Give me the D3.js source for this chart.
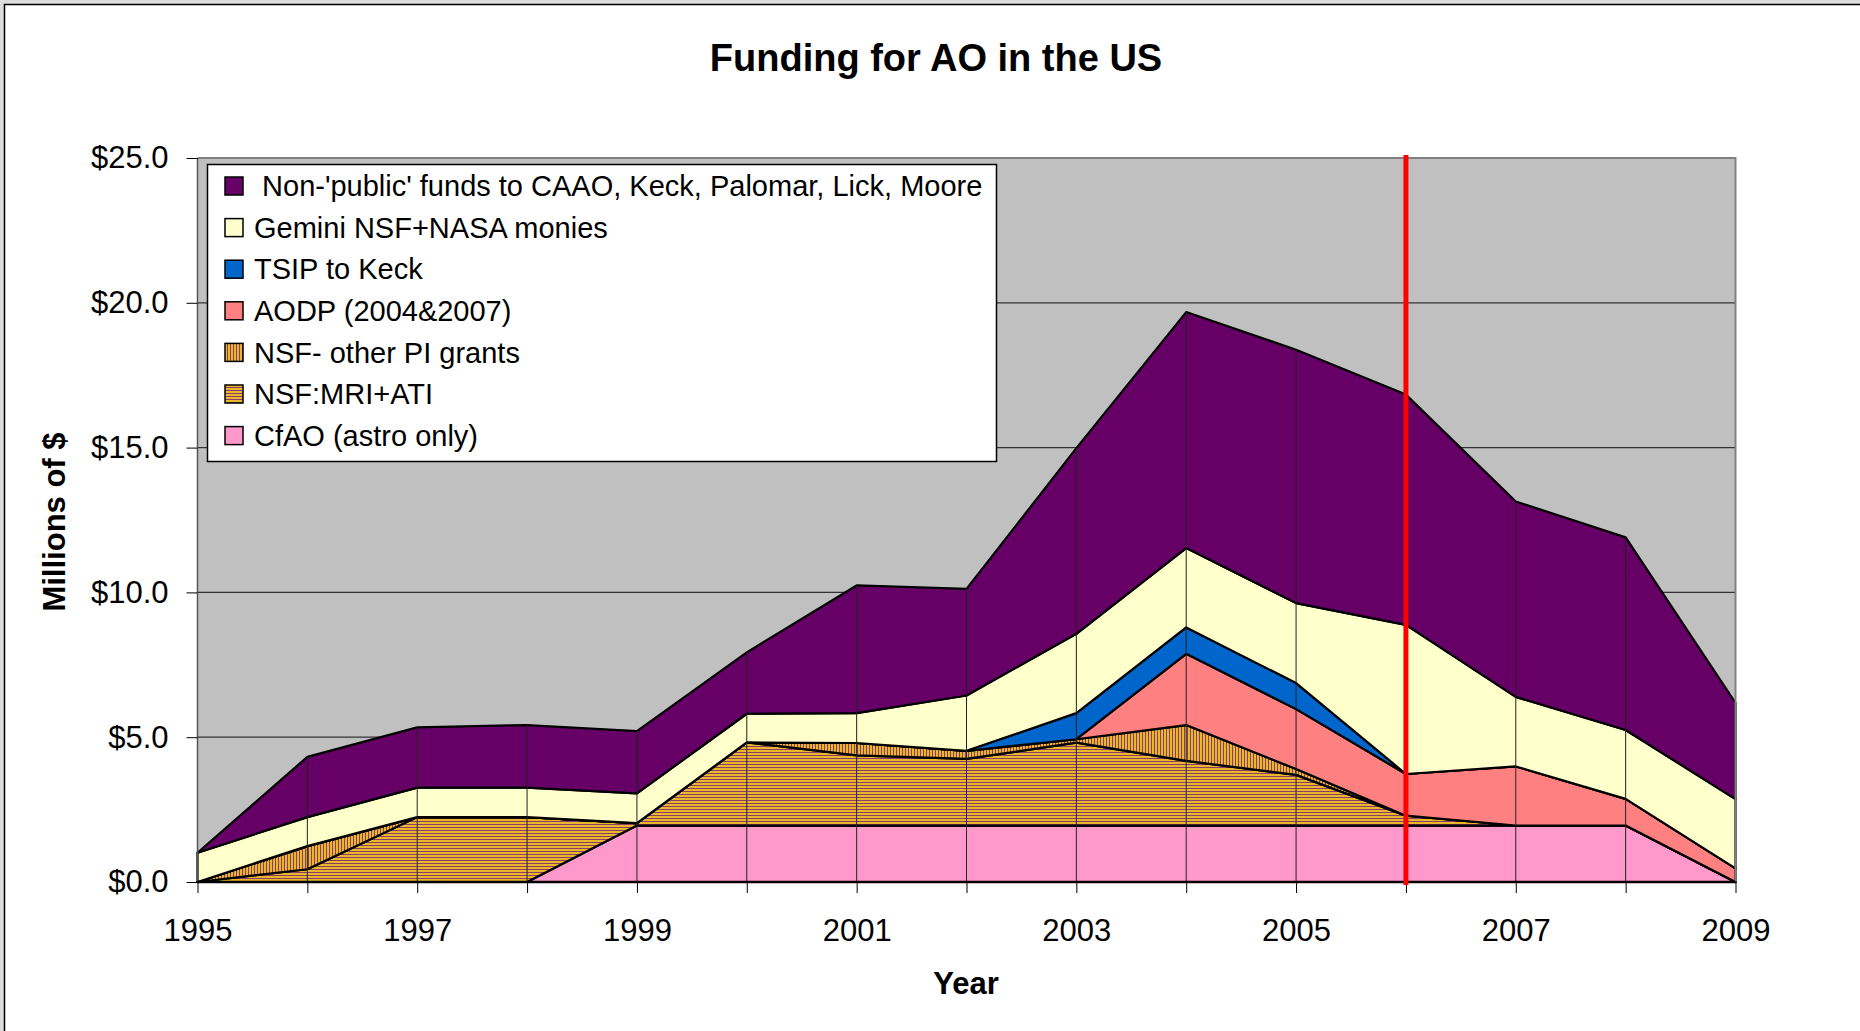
<!DOCTYPE html>
<html>
<head>
<meta charset="utf-8">
<script src="https://cdn.jsdelivr.net/npm/d3@7"></script>
<style>
  html, body { margin: 0; padding: 0; background: #dcdcdc; overflow: hidden; }
  svg { display: block; font-family: "Liberation Sans", Arial, sans-serif; }
</style>
</head>
<body>
<svg id="chart" width="1860" height="1031"></svg>
<script>
// data, millions of $
var years = [1995, 1996, 1997, 1998, 1999, 2000, 2001, 2002, 2003, 2004, 2005, 2006, 2007, 2008, 2009];
var cfao      = [0, 0, 0, 0, 1.95, 1.95, 1.95, 1.95, 1.95, 1.95, 1.95, 1.95, 1.95, 1.95, 0];
var nsfMri    = [0, 0.44, 2.24, 2.24, 0.08, 2.87, 2.42, 2.30, 2.86, 2.23, 1.75, 0.34, 0, 0, 0];
var nsfOther  = [0, 0.80, 0, 0, 0, 0, 0.43, 0.28, 0.12, 1.24, 0.20, 0, 0, 0, 0];
var aodp      = [0, 0, 0, 0, 0, 0, 0, 0, 0, 2.46, 2.07, 1.44, 2.04, 0.92, 0.47];
var tsip      = [0, 0, 0, 0, 0, 0, 0, 0, 0.90, 0.91, 0.90, 0, 0, 0, 0];
var gemini    = [1.01, 1.00, 1.02, 1.02, 1.03, 0.99, 1.03, 1.91, 2.74, 2.74, 2.76, 5.15, 2.40, 2.38, 2.39];
var nonPublic = [0, 2.08, 2.08, 2.16, 2.15, 2.12, 4.41, 3.68, 6.41, 8.15, 8.75, 7.95, 6.75, 6.65, 3.33];

var keys = ["cfao", "nsfMri", "nsfOther", "aodp", "tsip", "gemini", "nonPublic"];
var labels = {
  nonPublic: " Non-'public' funds to CAAO, Keck, Palomar, Lick, Moore",
  gemini: "Gemini NSF+NASA monies",
  tsip: "TSIP to Keck",
  aodp: "AODP (2004&2007)",
  nsfOther: "NSF- other PI grants",
  nsfMri: "NSF:MRI+ATI",
  cfao: "CfAO (astro only)"
};
var legendOrder = ["nonPublic", "gemini", "tsip", "aodp", "nsfOther", "nsfMri", "cfao"];
var yTicks = [0, 5, 10, 15, 20, 25];
var xLabelYears = [1995, 1997, 1999, 2001, 2003, 2005, 2007, 2009];
var markerYear = 2006;

var fills = {
  cfao: "#ff99cc",
  nsfMri: "url(#hstripe)",
  nsfOther: "url(#vstripe)",
  aodp: "#ff8080",
  tsip: "#0066cc",
  gemini: "#ffffcc",
  nonPublic: "#660066"
};

var plot = {left: 197.5, right: 1735.5, top: 158, bottom: 882};

var x = d3.scaleLinear().domain([1995, 2009]).range([plot.left, plot.right]);
var y = d3.scaleLinear().domain([0, 25]).range([plot.bottom, plot.top]);

var series = {cfao: cfao, nsfMri: nsfMri, nsfOther: nsfOther, aodp: aodp, tsip: tsip, gemini: gemini, nonPublic: nonPublic};
var table = years.map(function(yr, i) {
  var row = {year: yr};
  keys.forEach(function(k) { row[k] = series[k][i]; });
  return row;
});
var stacked = d3.stack().keys(keys)(table);

var svg = d3.select("#chart");

// stripe patterns like the excel fills
var defs = svg.append("defs");
var hp = defs.append("pattern").attr("id", "hstripe").attr("patternUnits", "userSpaceOnUse")
  .attr("width", 4).attr("height", 3);
hp.append("rect").attr("width", 4).attr("height", 3).attr("fill", "#e8b828");
hp.append("rect").attr("y", 2).attr("width", 4).attr("height", 1).attr("fill", "#8c3c6c");
var vp = defs.append("pattern").attr("id", "vstripe").attr("patternUnits", "userSpaceOnUse")
  .attr("width", 3).attr("height", 4);
vp.append("rect").attr("width", 3).attr("height", 4).attr("fill", "#e8b828");
vp.append("rect").attr("x", 2).attr("width", 1).attr("height", 4).attr("fill", "#8c3c6c");

// chart frame
svg.append("rect").attr("x", 4.5).attr("y", 4.5).attr("width", 1900).attr("height", 1100)
  .attr("fill", "#fff").attr("stroke", "#000").attr("stroke-width", 1.5);

// plot area
svg.append("rect").attr("x", plot.left).attr("y", plot.top)
  .attr("width", plot.right - plot.left).attr("height", plot.bottom - plot.top)
  .attr("fill", "#c0c0c0");

svg.append("g").selectAll("line").data(yTicks.slice(1, -1)).enter().append("line")
  .attr("x1", plot.left).attr("x2", plot.right)
  .attr("y1", function(d) { return y(d); }).attr("y2", function(d) { return y(d); })
  .attr("stroke", "#333").attr("stroke-width", 1.3);

// stacked areas
var area = d3.area()
  .x(function(d) { return x(d.data.year); })
  .y0(function(d) { return y(d[0]); })
  .y1(function(d) { return y(d[1]); });

svg.append("g").selectAll("path").data(stacked).enter().append("path")
  .attr("d", area)
  .attr("fill", function(d) { return fills[d.key]; })
  .attr("stroke", "#000").attr("stroke-width", 2.2).attr("stroke-linejoin", "round");

// drop lines
svg.append("g").selectAll("line").data(table).enter().append("line")
  .attr("x1", function(d) { return x(d.year); }).attr("x2", function(d) { return x(d.year); })
  .attr("y1", y(0)).attr("y2", function(d) {
    return y(d3.sum(keys, function(k) { return d[k]; }));
  })
  .attr("stroke", "#222").attr("stroke-width", 1);

// plot border
svg.append("path")
  .attr("d", "M" + plot.left + "," + plot.top + "H" + plot.right + "V" + plot.bottom)
  .attr("fill", "none").attr("stroke", "#808080").attr("stroke-width", 2);
svg.append("line").attr("x1", plot.left).attr("x2", plot.left).attr("y1", plot.top).attr("y2", plot.bottom)
  .attr("stroke", "#555").attr("stroke-width", 1.5);
svg.append("line").attr("x1", plot.left).attr("x2", plot.right).attr("y1", plot.bottom).attr("y2", plot.bottom)
  .attr("stroke", "#000").attr("stroke-width", 2.5);

// axes
var yAxis = d3.axisLeft(y).tickValues(yTicks).tickSize(11).tickPadding(18)
  .tickFormat(function(d) { return "$" + d3.format(".1f")(d); });
var gy = svg.append("g").attr("transform", "translate(" + plot.left + ",0)").call(yAxis);
gy.select(".domain").remove();
gy.selectAll("text").attr("font-size", 31).attr("fill", "#000").attr("font-family", "Liberation Sans, Arial, sans-serif");
gy.selectAll("line").attr("stroke", "#000");

var xAxis = d3.axisBottom(x).tickValues(years).tickSize(11).tickPadding(26)
  .tickFormat(function(d) { return xLabelYears.indexOf(d) >= 0 ? String(d) : ""; });
var gx = svg.append("g").attr("transform", "translate(0," + plot.bottom + ")").call(xAxis);
gx.select(".domain").remove();
gx.selectAll("text").attr("font-size", 31).attr("fill", "#000").attr("font-family", "Liberation Sans, Arial, sans-serif");
gx.selectAll("line").attr("stroke", "#000");

// red marker line
svg.append("line")
  .attr("x1", x(markerYear)).attr("x2", x(markerYear))
  .attr("y1", y(25) - 3).attr("y2", y(0) + 3)
  .attr("stroke", "#ff0000").attr("stroke-width", 5);

// legend
var lg = svg.append("g");
lg.append("rect").attr("x", 207.5).attr("y", 164.5).attr("width", 789).attr("height", 297)
  .attr("fill", "#fff").attr("stroke", "#000").attr("stroke-width", 1.5);
var items = lg.selectAll("g.item").data(legendOrder).enter().append("g").attr("class", "item")
  .attr("transform", function(d, i) { return "translate(0," + (186 + i * 41.6) + ")"; });
items.append("rect").attr("x", 225).attr("y", -9).attr("width", 18).attr("height", 18)
  .attr("fill", function(d) { return fills[d]; }).attr("stroke", "#000").attr("stroke-width", 1.5);
items.append("text").attr("x", 254).attr("dy", "0.35em").attr("font-size", 29)
  .style("white-space", "pre")
  .text(function(d) { return labels[d]; });

// titles
svg.append("text").attr("x", 936).attr("y", 71).attr("text-anchor", "middle")
  .attr("font-size", 38).attr("font-weight", "bold").text("Funding for AO in the US");
svg.append("text").attr("x", 966).attr("y", 994).attr("text-anchor", "middle")
  .attr("font-size", 31).attr("font-weight", "bold").text("Year");
svg.append("text").attr("transform", "translate(65,522) rotate(-90)").attr("text-anchor", "middle")
  .attr("font-size", 31).attr("font-weight", "bold").text("Millions of $");
</script>
</body>
</html>
